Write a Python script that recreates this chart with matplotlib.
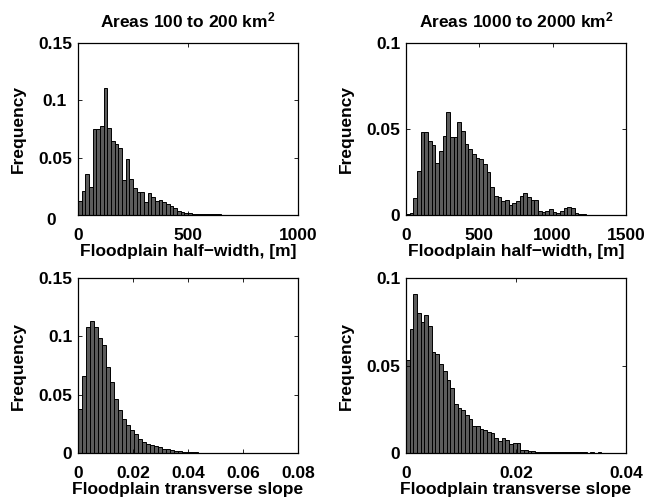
import numpy as np
import matplotlib
matplotlib.use("Agg")
import matplotlib.pyplot as plt
import matplotlib.transforms as mtransforms

plt.rcParams["font.family"] = ["Liberation Sans", "DejaVu Sans"]
plt.rcParams["font.weight"] = "bold"
plt.rcParams["mathtext.fontset"] = "custom"
plt.rcParams["mathtext.bf"] = "Liberation Sans:bold"
plt.rcParams["mathtext.default"] = "bf"

# histogram frequencies (bins start at 0)
width_small_bins = 1000 / 60  # m
width_small = [0.0125, 0.021, 0.036, 0.0247, 0.075, 0.075, 0.0773, 0.1105, 0.0759, 0.0645,
               0.0619, 0.0587, 0.0305, 0.0488, 0.0314, 0.0235, 0.0198, 0.0198, 0.011, 0.0192,
               0.0154, 0.0125, 0.0134, 0.011, 0.0096, 0.0076, 0.0058, 0.0038, 0.0023, 0.0017,
               0.0015, 0.0009, 0.0012, 0.0012, 0.0006, 0.0006, 0.0009, 0.0012, 0.0006, 0.0003,
               0.0003, 0.0002, 0.0001, 0, 0, 0, 0, 0, 0, 0.0001]

width_large_bins = 25  # m
width_large = [0.0008, 0.0014, 0.0098, 0.0253, 0.0484, 0.0484, 0.0429, 0.0406, 0.0304, 0.0373,
               0.0461, 0.0596, 0.0455, 0.0451, 0.0543, 0.049, 0.041, 0.0382, 0.0357, 0.0333,
               0.0324, 0.0298, 0.0249, 0.0161, 0.0112, 0.0102, 0.0082, 0.0088, 0.0059, 0.0069,
               0.0082, 0.0108, 0.0127, 0.0106, 0.0086, 0.0086, 0.0024, 0.002, 0.0024, 0.0033,
               0.0018, 0.0014, 0.0024, 0.0043, 0.0049, 0.0043, 0.0014, 0.0008, 0.0004]

slope_small_bins = 0.00146
slope_small = [0.038, 0.066, 0.108, 0.113, 0.108, 0.099, 0.093, 0.074, 0.061, 0.046,
               0.037, 0.029, 0.024, 0.020, 0.016, 0.012, 0.0095, 0.0075, 0.0066, 0.006,
               0.0052, 0.0038, 0.0032, 0.0026, 0.002, 0.0014, 0.0011, 0.0008, 0.0006, 0.0005,
               0.0004, 0.0004, 0.0003, 0.0003, 0.0002, 0.0002, 0.0002, 0.0002, 0.0002, 0.0001,
               0.0001, 0.0001, 0.0001, 0.0001, 0.0001, 0.0001, 0.0001, 0.0001, 0.0001, 0.0001]

slope_large_bins = 0.00067
slope_large = [0.053, 0.0708, 0.091, 0.080, 0.0746, 0.0788, 0.0727, 0.058, 0.0563, 0.0506,
               0.0467, 0.0419, 0.0371, 0.0281, 0.0256, 0.0246, 0.0217, 0.0192, 0.0154, 0.0154,
               0.014, 0.0131, 0.0121, 0.0117, 0.0083, 0.0069, 0.0083, 0.0073, 0.0054, 0.0058,
               0.0058, 0.0019, 0.0015, 0.0012, 0.001, 0.0008, 0.0008, 0.0006, 0.0005, 0.0005,
               0.0004, 0.0005, 0.0004, 0.0003, 0.0004, 0.0003, 0.0003, 0.0004, 0.0003, 0.0002,
               0.0003, 0.0002, 0.0003, 0.0002, 0.0002, 0.0002, 0.0001, 0.0001, 0.0001]

fig = plt.figure(figsize=(6.48, 5), dpi=100)
ax1 = fig.add_axes([0.1204, 0.57, 0.3395, 0.344])
ax2 = fig.add_axes([0.6265, 0.57, 0.3395, 0.344])
ax3 = fig.add_axes([0.1204, 0.094, 0.3395, 0.350])
ax4 = fig.add_axes([0.6265, 0.094, 0.3395, 0.350])

panels = [
    (ax1, width_small, width_small_bins, (0, 1000), [0, 500, 1000], ["0", "500", "1000"],
     (0, 0.15), [0, 0.05, 0.1, 0.15], ["0", "0.05", "0.1", "0.15"],
     "Floodplain half\u2212width, [m]", r"Areas 100 to 200 km$^2$"),
    (ax2, width_large, width_large_bins, (0, 1500), [0, 500, 1000, 1500], ["0", "500", "1000", "1500"],
     (0, 0.1), [0, 0.05, 0.1], ["0", "0.05", "0.1"],
     "Floodplain half\u2212width, [m]", r"Areas 1000 to 2000 km$^2$"),
    (ax3, slope_small, slope_small_bins, (0, 0.08), [0, 0.02, 0.04, 0.06, 0.08],
     ["0", "0.02", "0.04", "0.06", "0.08"],
     (0, 0.15), [0, 0.05, 0.1, 0.15], ["0", "0.05", "0.1", "0.15"],
     "Floodplain transverse slope", None),
    (ax4, slope_large, slope_large_bins, (0, 0.04), [0, 0.02, 0.04], ["0", "0.02", "0.04"],
     (0, 0.1), [0, 0.05, 0.1], ["0", "0.05", "0.1"],
     "Floodplain transverse slope", None),
]

for ax, h, w, xl, xt, xtl, yl, yt, ytl, xlab, title in panels:
    left = np.arange(len(h)) * w
    ax.bar(left, h, width=w, align="edge", color="#5c5c5c", edgecolor="black", linewidth=0.7)
    ax.set_xlim(*xl)
    ax.set_ylim(*yl)
    ax.set_xticks(xt)
    ax.set_xticklabels(xtl, fontsize=12.5, fontweight="bold")
    ax.set_yticks(yt)
    ax.set_yticklabels(ytl, fontsize=12.5, fontweight="bold")
    ax.tick_params(direction="in", top=True, right=True, length=3, width=0.6)
    ax.tick_params(axis="x", pad=9)
    ax.tick_params(axis="y", pad=4)
    for s in ax.spines.values():
        s.set_linewidth(0.9)
    ax.set_xlabel(xlab, fontsize=12.5, fontweight="bold", labelpad=1)
    ax.set_ylabel("Frequency", fontsize=12.5, fontweight="bold", labelpad=9)
    if title:
        ax.set_title(title, fontsize=12.5, fontweight="bold", pad=11)

# the upper-left panel has its "0" and "0.1" labels nudged left in the original
for lab in ax1.get_yticklabels():
    if lab.get_text() == "0":
        lab.set_transform(lab.get_transform() + mtransforms.ScaledTranslation(-16 / 100, -4 / 100, fig.dpi_scale_trans))
    elif lab.get_text() == "0.1":
        lab.set_transform(lab.get_transform() + mtransforms.ScaledTranslation(-6 / 100, 0, fig.dpi_scale_trans))

fig.savefig("out.png", dpi=100)
